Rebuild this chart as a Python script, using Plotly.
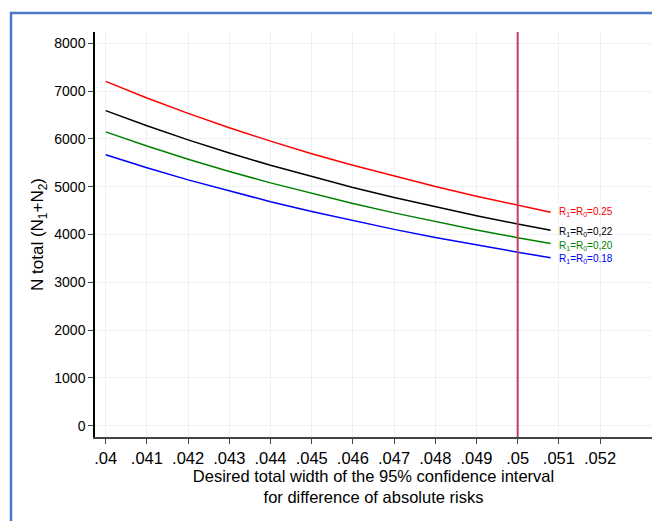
import plotly.graph_objects as go

widths = [0.040, 0.041, 0.042, 0.043, 0.044, 0.045, 0.046, 0.047, 0.048, 0.049, 0.050, 0.0508]
n_r25 = [7203, 6856, 6533, 6233, 5953, 5691, 5447, 5217, 5002, 4800, 4610, 4466]
n_r22 = [6592, 6275, 5979, 5704, 5448, 5209, 4985, 4775, 4578, 4393, 4219, 4087]
n_r20 = [6147, 5850, 5575, 5319, 5080, 4857, 4648, 4452, 4268, 4096, 3934, 3811]
n_r18 = [5670, 5397, 5143, 4907, 4686, 4480, 4287, 4107, 3938, 3779, 3629, 3516]

series = [
    ("R<sub>1</sub>=R<sub>0</sub>=0.25", n_r25, "#ff0000", 0),
    ("R<sub>1</sub>=R<sub>0</sub>=0,22", n_r22, "#000000", -2),
    ("R<sub>1</sub>=R<sub>0</sub>=0,20", n_r20, "#008000", -2),
    ("R<sub>1</sub>=R<sub>0</sub>=0.18", n_r18, "#0000ff", -1),
]

x_ticks = [0.040, 0.041, 0.042, 0.043, 0.044, 0.045, 0.046, 0.047, 0.048, 0.049, 0.050, 0.051, 0.052]
x_tick_labels = [".04", ".041", ".042", ".043", ".044", ".045", ".046", ".047", ".048", ".049", ".05", ".051", ".052"]
y_ticks = [0, 1000, 2000, 3000, 4000, 5000, 6000, 7000, 8000]
ref_width = 0.05

FONT = "Liberation Sans, Arial, sans-serif"

fig = go.Figure()
annotations = []
for name, vals, color, ys in series:
    fig.add_trace(go.Scatter(x=widths, y=vals, mode="lines", name=name,
                             line=dict(color=color, width=1.5), showlegend=False,
                             hoverinfo="skip"))
    annotations.append(dict(x=widths[-1], y=vals[-1], xref="x", yref="y", text=name,
                            showarrow=False, xanchor="left", yanchor="middle",
                            xshift=6, yshift=ys,
                            font=dict(family=FONT, size=10, color=color)))

fig.add_shape(type="line", x0=ref_width, x1=ref_width, y0=0, y1=1, xref="x", yref="paper",
              line=dict(color="#c83c5e", width=2))

# outer frame
fig.add_shape(type="rect", xref="paper", yref="paper",
              x0=-0.1508, x1=1.06, y0=-0.27, y1=1.0469,
              line=dict(color="#4a78c8", width=2.5), fillcolor="rgba(0,0,0,0)", layer="below")

fig.update_layout(
    width=660, height=521,
    margin=dict(l=87, r=16, t=24, b=92),
    paper_bgcolor="white", plot_bgcolor="white",
    font=dict(family=FONT, color="#000000", size=14),
    annotations=annotations,
    xaxis=dict(
        range=[0.03974, 0.05326],
        tickvals=x_ticks, ticktext=x_tick_labels,
        tickfont=dict(family=FONT, size=16.5, color="#000000"),
        ticks="outside", ticklen=5, tickcolor="#444444", tickwidth=1.2,
        showline=True, linecolor="#444444", linewidth=1.5,
        showgrid=True, gridcolor="#eaf2f3", gridwidth=1,
        zeroline=False,
        title=dict(text="Desired total width of the 95% confidence interval<br>for difference of absolute risks",
                   font=dict(family=FONT, size=16.5, color="#000000"), standoff=3),
    ),
    yaxis=dict(
        range=[-236, 8236],
        tickvals=y_ticks,
        tickfont=dict(family=FONT, size=14, color="#000000"),
        ticks="outside", ticklen=5, tickcolor="#444444", tickwidth=1.2,
        showline=True, linecolor="#000000", linewidth=1.5,
        showgrid=True, gridcolor="#eaf2f3", gridwidth=1,
        zeroline=False,
        title=dict(text="N total (N<sub>1</sub>+N<sub>2</sub>)",
                   font=dict(family=FONT, size=17, color="#000000"), standoff=6),
    ),
)

fig.write_html("out.html")
